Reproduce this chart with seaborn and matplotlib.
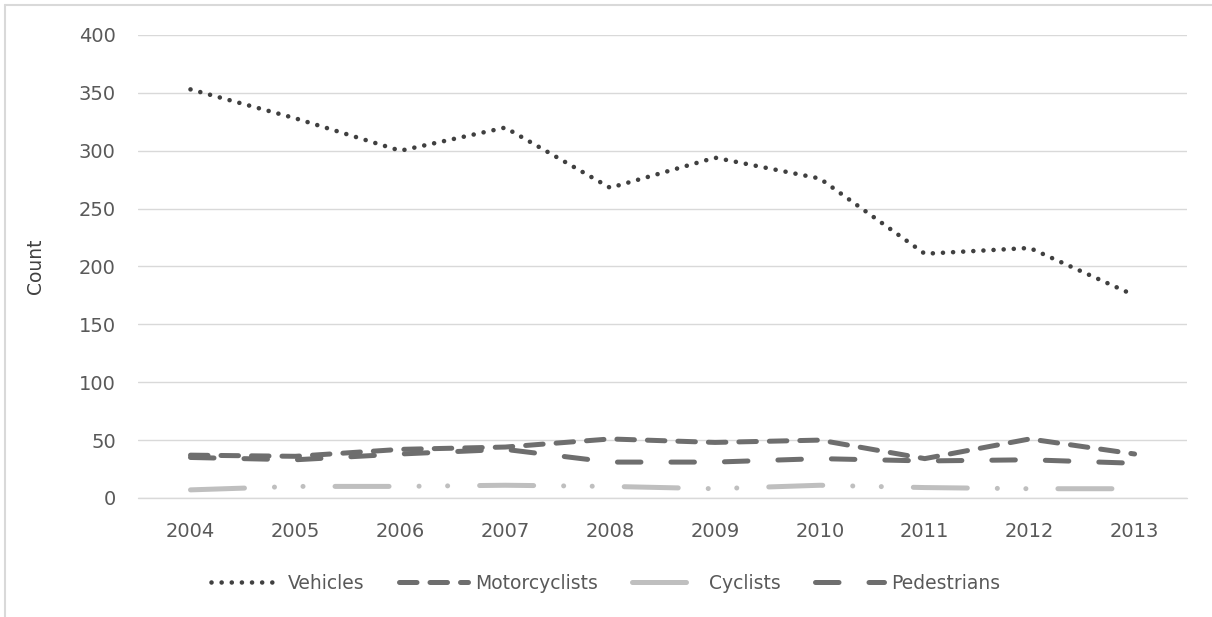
import numpy as np
import pandas as pd
import seaborn as sns
import matplotlib.pyplot as plt
from matplotlib.lines import Line2D

years = [2004, 2005, 2006, 2007, 2008, 2009, 2010, 2011, 2012, 2013]
vehicles = [353, 328, 300, 320, 268, 294, 276, 211, 216, 175]
motorcyclists = [37, 36, 42, 44, 51, 48, 50, 34, 51, 38]
cyclists = [7, 10, 10, 11, 10, 8, 11, 9, 8, 8]
pedestrians = [35, 33, 38, 42, 31, 31, 34, 32, 33, 30]

series = ["Vehicles", "Motorcyclists", "Cyclists", "Pedestrians"]
colors = {"Vehicles": "#404040", "Motorcyclists": "#6e6e6e",
          "Cyclists": "#bfbfbf", "Pedestrians": "#6e6e6e"}
dash_map = {"Vehicles": (0.01, 2.2),
            "Motorcyclists": (3.5, 2.6),
            "Cyclists": (10.8, 6.0, 0.01, 5.7, 0.01, 6.4),
            "Pedestrians": (4.7, 6.0)}
widths = {"Vehicles": 3.3, "Motorcyclists": 3.6, "Cyclists": 3.6, "Pedestrians": 3.6}

df = pd.DataFrame({"Year": years, "Vehicles": vehicles, "Motorcyclists": motorcyclists,
                   "Cyclists": cyclists, "Pedestrians": pedestrians})
long = df.melt(id_vars="Year", var_name="Series", value_name="Count")

sns.set_theme(style="white")
plt.rcParams["font.family"] = ["DejaVu Sans"]

fig = plt.figure(figsize=(12.12, 6.17), dpi=100)
ax = fig.add_axes([0.1139, 0.1929, 0.8655, 0.7504])

for name in series:
    sub = long[long["Series"] == name]
    sns.lineplot(data=sub, x="Year", y="Count", ax=ax, color=colors[name],
                 lw=widths[name], label=name, dash_capstyle="round",
                 solid_capstyle="round")
    ax.lines[-1].set_dashes(dash_map[name])

ax.set_xlim(2003.5, 2013.5)
ax.set_ylim(0, 400)
ax.set_yticks(range(0, 401, 50))
ax.set_xticks(years)
ax.grid(axis="y", color="#d9d9d9", lw=1)
ax.axhline(0, color="#d9d9d9", lw=1, clip_on=False, zorder=0.5)
ax.set_axisbelow(True)
for s in ax.spines.values():
    s.set_visible(False)
ax.tick_params(axis="both", length=0, labelsize=14, colors="#595959")
ax.tick_params(axis="x", pad=17)
ax.tick_params(axis="y", pad=16)
ax.set_xlabel("")
ax.set_ylabel("Count", fontsize=13.5, color="#404040", labelpad=24)

handles, labels = ax.get_legend_handles_labels()
ax.get_legend().remove()
leg = fig.legend(handles, labels, loc="center", bbox_to_anchor=(0.5, 0.0551), ncol=4,
                 frameon=False, handlelength=3.7, columnspacing=1.8,
                 handletextpad=0.4, fontsize=13.5)
for t in leg.get_texts():
    t.set_color("#595959")

# outer chart border (top and left edges visible in the reference)
fig.add_artist(Line2D([0.004, 1.0], [0.992, 0.992], transform=fig.transFigure,
                      color="#d9d9d9", lw=1.5))
fig.add_artist(Line2D([0.004, 0.004], [0.0, 0.992], transform=fig.transFigure,
                      color="#d9d9d9", lw=1.5))

fig.savefig("out.png", dpi=100)
